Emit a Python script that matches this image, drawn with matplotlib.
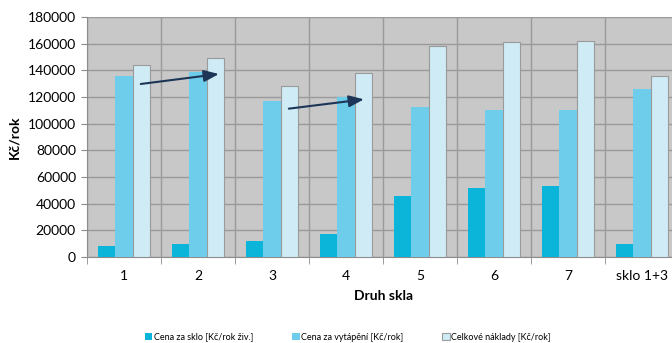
import numpy as np
import matplotlib.pyplot as plt

plt.rcParams['font.family'] = ['Lato', 'DejaVu Sans']

druh = ["1", "2", "3", "4", "5", "6", "7", "sklo 1+3"]
cena_sklo = [8000, 10000, 12000, 17000, 46000, 52000, 53000, 9500]
cena_vytapeni = [136000, 139000, 117000, 120000, 112500, 110000, 110000, 126000]
celkove = [144000, 149000, 128000, 138000, 158000, 161000, 162000, 136000]

nazvy = ["Cena za sklo [Kč/rok živ.]", "Cena za vytápění [Kč/rok]",
         "Celkové náklady [Kč/rok]"]
barvy = ["#0bb5da", "#6fcdec", "#cfebf5"]

# sipky (x v indexech skupin, y v Kc/rok)
sipky = [((0.19, 129500), (1.32, 137500)),
         ((2.19, 111000), (3.28, 118500))]

fig = plt.figure(figsize=(6.72, 3.43), dpi=100)
ax = fig.add_axes([87 / 672, 86 / 343, 592 / 672, 240 / 343])
ax.set_facecolor("#c8c8c9")

x = np.arange(len(druh))
w = 0.236
ax.bar(x - w, cena_sklo, w, color=barvy[0], label=nazvy[0], zorder=3)
ax.bar(x, cena_vytapeni, w, color=barvy[1], label=nazvy[1], zorder=3)
ax.bar(x + w, celkove, w, color=barvy[2], edgecolor="#9a9a9a", lw=0.8,
       label=nazvy[2], zorder=3)

for (x0, y0), (x1, y1) in sipky:
    ax.annotate("", xy=(x1, y1), xytext=(x0, y0), zorder=5,
                arrowprops=dict(arrowstyle="-|>,head_length=0.9,head_width=0.35",
                                color="#1d3557", lw=1.5))

ax.set_xlim(-0.5, len(druh) - 0.5)
ax.set_ylim(0, 180000)
ax.set_yticks(np.arange(0, 180001, 20000))
ax.set_xticks(x)
ax.set_xticklabels(druh)
ax.set_xticks(np.arange(-0.5, len(druh)), minor=True)
ax.tick_params(axis="x", which="major", length=0, pad=9, labelsize=10)
ax.tick_params(axis="x", which="minor", length=5, color="#8c8c8c")
ax.tick_params(axis="y", length=4, color="#8c8c8c", labelsize=10, pad=4)
ax.grid(True, axis="y", color="#9a9a9a", lw=1, zorder=1)
ax.grid(True, axis="x", which="minor", color="#9a9a9a", lw=1, zorder=1)
for s in ax.spines.values():
    s.set_visible(False)
ax.spines["left"].set_visible(True)
ax.spines["left"].set_color("#8c8c8c")
ax.spines["bottom"].set_visible(True)
ax.spines["bottom"].set_color("#8c8c8c")

ax.set_ylabel("Kč/rok", fontweight="bold", fontsize=10, labelpad=5)
ax.set_xlabel("Druh skla", fontweight="bold", fontsize=10, labelpad=6)

fig.legend(loc="center", bbox_to_anchor=(0.518, 1 - 337 / 343), ncol=3,
           frameon=False, fontsize=6.5, handlelength=0.8, handleheight=0.8,
           handletextpad=0.2, columnspacing=4.3)

fig.savefig("out.png", dpi=100)
